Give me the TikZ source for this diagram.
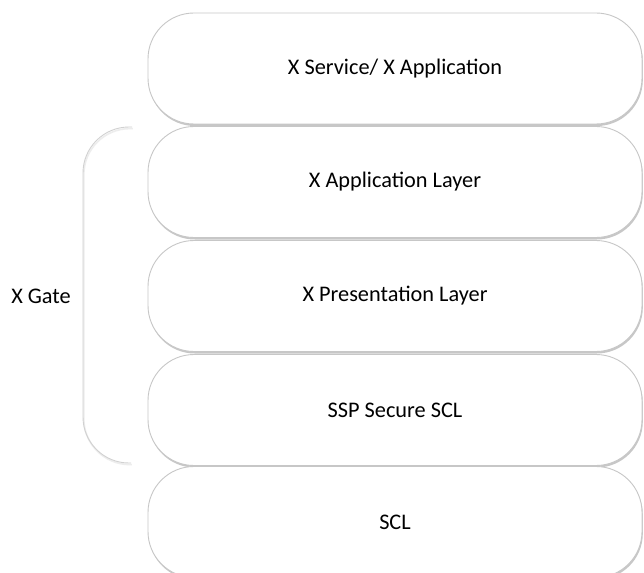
\documentclass[tikz,border=0pt]{standalone}
\usepackage{fontspec}
\setmainfont{Carlito}
\usetikzlibrary{shadows}
\tikzset{
  layer/.style={draw=black!22, line width=0.9pt, fill=white, rounded corners=46pt,
    minimum width=494pt, minimum height=111pt, inner sep=0pt,
    font=\fontsize{22.3}{26}\selectfont, text=black,
    drop shadow={shadow xshift=0.8pt, shadow yshift=-2pt, opacity=0.22, fill=black}},
  brace/.style={draw=black!18, line width=0.9pt, rounded corners=46pt},
  lbl/.style={font=\fontsize{22.3}{26}\selectfont, text=black}
}
\begin{document}
\begin{tikzpicture}[x=1pt,y=-1pt]
\useasboundingbox (0,0) rectangle (644,572);
\clip (0,0) rectangle (644,572);
\fill[white] (0,0) rectangle (644,572);
\node[layer] (l1) at (395,68.5) {X Service/ X Application};
\node[layer] (l2) at (395,182) {X Application Layer};
\node[layer] (l3) at (395,296) {X Presentation Layer};
\node[layer] (l4) at (395,410) {SSP Secure SCL};
\node[layer] (l5) at (395,522) {SCL};
\coordinate (bt) at (132,127);
\coordinate (bb) at (131,463);
\coordinate (bm) at (83,295);
\draw[brace, draw=black!7, line width=1.6pt] ([shift={(0.8,1.6)}]bt) -| ([shift={(0.8,0)}]bm) |- ([shift={(0.8,1.6)}]bb);
\draw[brace] (bt) -| (bm) |- (bb);
\node[lbl] (gate) at (41,296) {X Gate};
\end{tikzpicture}
\end{document}
